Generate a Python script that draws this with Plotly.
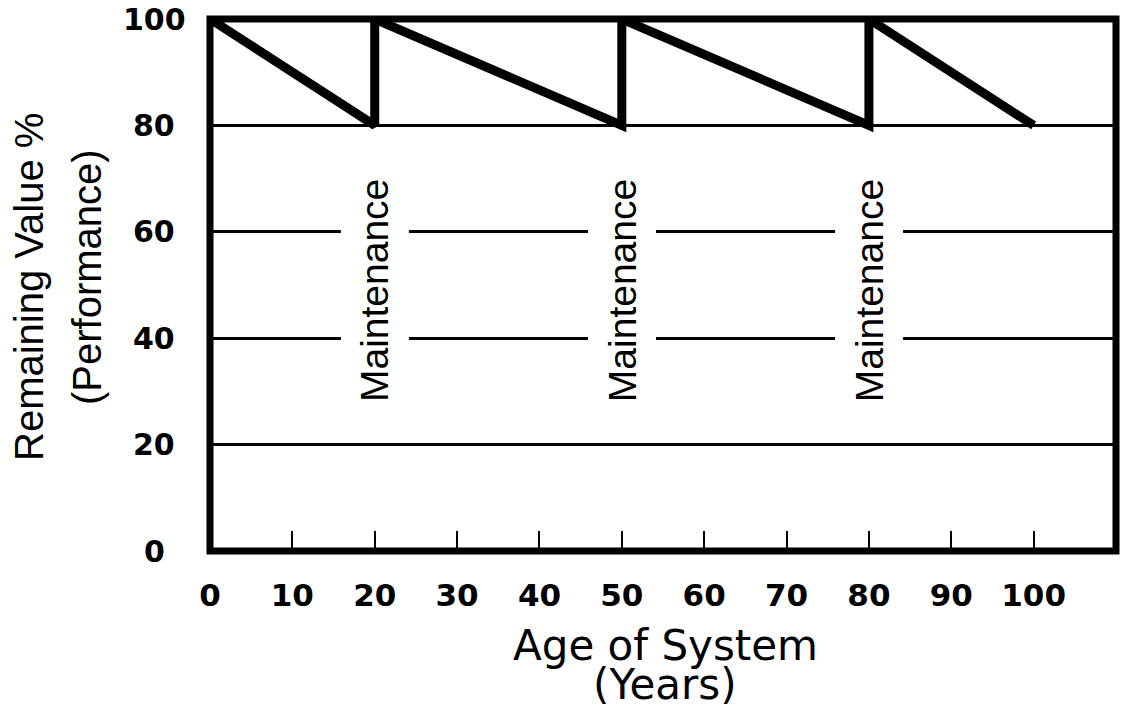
import plotly.graph_objects as go

# Data
age_years = [0, 20, 20, 50, 50, 80, 80, 100]
remaining_value = [100, 80, 100, 80, 100, 80, 100, 80]
maintenance_ages = [20, 50, 80]
maintenance_label = "Maintenance"
x_ticks = [0, 10, 20, 30, 40, 50, 60, 70, 80, 90, 100]
y_ticks = [0, 20, 40, 60, 80, 100]

PLOT_L, PLOT_T, PLOT_R, PLOT_B = 210, 19, 1116, 551
FIG_W, FIG_H = 1125, 719

fig = go.Figure()
fig.add_trace(go.Scatter(
    x=age_years, y=remaining_value, mode="lines",
    line=dict(color="black", width=9), showlegend=False, hoverinfo="skip",
    cliponaxis=False,
))

for a in maintenance_ages:
    fig.add_annotation(
        x=a, y=49, xref="x", yref="y", text=maintenance_label, textangle=-90,
        xanchor="center", yanchor="middle",
        showarrow=False, bgcolor="white", borderpad=12,
        font=dict(family="Liberation Sans, Arial", size=39, color="black"),
    )

H = float(PLOT_B - PLOT_T)
W = float(PLOT_R - PLOT_L)
def py(p):
    return (PLOT_B - p) / H
def px(p):
    return (p - PLOT_L) / W

# centred y tick labels (as in the reference)
for v in y_ticks:
    fig.add_annotation(
        x=px(154), y=v, xref="paper", yref="y", text=str(v),
        xanchor="center", yanchor="middle", showarrow=False,
        font=dict(family="DejaVu Sans", size=30, color="black", weight="bold"),
    )

fig.add_annotation(x=px(665), y=py(645), xref="paper", yref="paper", text="Age of System",
                   xanchor="center", yanchor="middle",
                   showarrow=False, font=dict(family="DejaVu Sans", size=42, color="black"))
fig.add_annotation(x=px(665), y=py(684), xref="paper", yref="paper", text="(Years)",
                   xanchor="center", yanchor="middle",
                   showarrow=False, font=dict(family="DejaVu Sans", size=42, color="black"))
fig.add_annotation(x=px(29), y=py(287), xref="paper", yref="paper", text="Remaining Value %",
                   textangle=-90, showarrow=False, xanchor="center", yanchor="middle",
                   font=dict(family="Liberation Sans, Arial", size=40, color="black"))
fig.add_annotation(x=px(87), y=py(277), xref="paper", yref="paper", text="(Performance)",
                   textangle=-90, showarrow=False, xanchor="center", yanchor="middle",
                   font=dict(family="Liberation Sans, Arial", size=40, color="black"))

# plot frame centred on the plot-area edges
fig.add_shape(type="rect", xref="paper", yref="paper", x0=0, y0=0, x1=1, y1=1,
              line=dict(color="black", width=7), layer="above")

fig.update_layout(
    width=FIG_W, height=FIG_H,
    margin=dict(l=PLOT_L, r=FIG_W - PLOT_R, t=PLOT_T, b=FIG_H - PLOT_B, autoexpand=False),
    paper_bgcolor="white", plot_bgcolor="white",
    showlegend=False,
)
fig.update_xaxes(
    range=[0, 110], tickvals=x_ticks, ticktext=[str(v) for v in x_ticks],
    ticks="inside", ticklen=20, tickwidth=2, tickcolor="black",
    showgrid=False, zeroline=False, showline=False, automargin=False,
    tickfont=dict(family="DejaVu Sans", size=31, color="black", weight="bold"),
    ticklabelstandoff=23, ticklabeloverflow="allow",
)
fig.update_yaxes(
    range=[0, 100], tickvals=y_ticks, showticklabels=False,
    ticks="", showgrid=True, gridcolor="black", gridwidth=3, zeroline=False,
    showline=False, automargin=False,
)

fig.write_html(
    "out.html",
    config={"displayModeBar": False},
    post_script="document.body.style.margin='0';document.body.style.overflow='hidden';",
)
